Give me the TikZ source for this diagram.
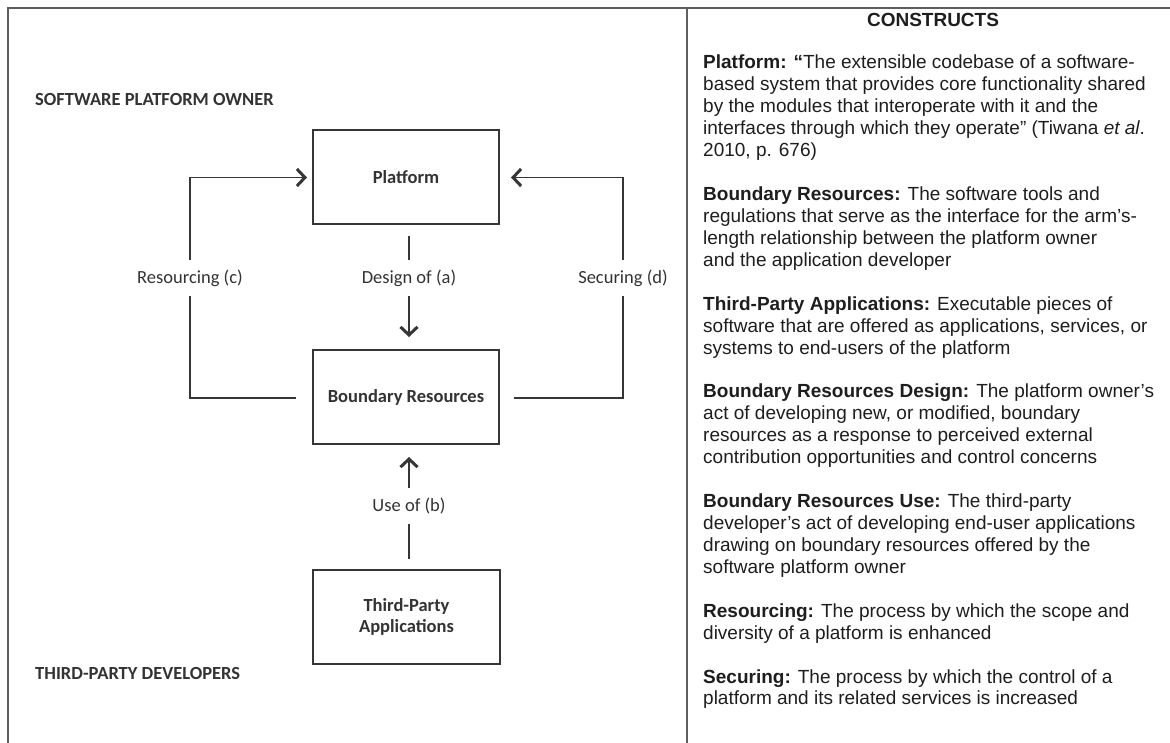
\documentclass[tikz,border=0pt]{standalone}
\usepackage{fontspec}
\setmainfont{Liberation Sans}
\newfontfamily\calfont{Carlito}
\usetikzlibrary{arrows.meta}
\definecolor{framegray}{HTML}{5E5E5E}
\definecolor{boxgray}{HTML}{363636}
\definecolor{labgray}{HTML}{333333}
\definecolor{txt}{HTML}{1E1E1E}
\newcommand\rl[3]{\node[rt] (#1) at (703,{69+21.93*#2}) {#3};}
\begin{document}
\begin{tikzpicture}[x=1pt,y=-1pt,
  frameline/.style={draw=framegray, line width=1.5pt},
  box/.style={draw=boxgray, line width=2pt, inner sep=0pt, align=center,
    font=\calfont\fontsize{18.5}{21}\selectfont\bfseries, text=labgray},
  conn/.style={draw=boxgray, line width=1.7pt},
  arr/.style={conn, -{Straight Barb[length=8pt,width=17pt,line width=3pt]}},
  lab/.style={font=\calfont\fontsize{18.5}{22}\selectfont, text=labgray, inner sep=0pt, minimum height=36pt},
  hdr/.style={font=\calfont\fontsize{18.5}{22}\selectfont\bfseries, text=labgray, anchor=west, inner sep=0pt},
  rt/.style={font=\fontsize{19}{22}\selectfont, text=txt, anchor=base west, inner sep=0pt},
]
\useasboundingbox (0,0) rectangle (1170,743);
\fill[white] (0,0) rectangle (1170,743);

% frame
\draw[frameline] (7,8) -- (1170,8);
\draw[frameline] (8,8) -- (8,743);
\draw[frameline] (687,8) -- (687,743);

% left side headers
\node[hdr] (spo) at (35,100) {SOFTWARE PLATFORM OWNER};
\node[hdr] (tpd) at (35,673) {THIRD-PARTY DEVELOPERS};

% boxes
\node[box, minimum width=186pt, minimum height=94pt] (plat) at (406,177.5) {Platform};
\node[box, minimum width=186pt, minimum height=94pt] (br) at (406,397) {Boundary Resources};
\node[box, minimum width=187pt, minimum height=94pt] (tpa) at (406.5,617) {Third-Party\\Applications};

% labels
\node[lab] (resc) at (190,278) {Resourcing (c)};
\node[lab] (des) at (409,278) {Design of (a)};
\node[lab] (sec) at (623,278) {Securing (d)};
\node[lab] (use) at (409,506) {Use of (b)};

% connectors
\coordinate (brL) at (296,398);
\coordinate (brR) at (514,398);
\draw[conn] (brL) -| (resc.south);
\draw[arr] (resc.north) |- ([xshift=-5pt]plat.west);
\draw[conn] (brR) -| (sec.south);
\draw[arr] (sec.north) |- ([xshift=11pt]plat.east);
\draw[conn] ([xshift=3pt,yshift=-11pt]plat.south) -- (des.north);
\draw[arr] (des.south) -- ([xshift=3pt,yshift=12pt]br.north);
\draw[conn] ([xshift=2.5pt,yshift=10pt]tpa.north) -- (use.south);
\draw[arr] (use.north) -- ([xshift=3pt,yshift=-12pt]br.south);

% right side
\node[font=\fontsize{19}{22}\selectfont\bfseries, text=txt, anchor=base, inner sep=0pt] (cons) at (933,27) {CONSTRUCTS};
\rl{r0}{0}{\textbf{Platform: “}The extensible codebase of a software-}
\rl{r1}{1}{based system that provides core functionality shared}
\rl{r2}{2}{by the modules that interoperate with it and the}
\rl{r3}{3}{interfaces through which they operate” (Tiwana \emph{et al}.}
\rl{r4}{4}{2010, p. 676)}
\rl{r6}{6}{\textbf{Boundary Resources:} The software tools and}
\rl{r7}{7}{regulations that serve as the interface for the arm's-}
\rl{r8}{8}{length relationship between the platform owner}
\rl{r9}{9}{and the application developer}
\rl{r11}{11}{\textbf{Third-Party Applications:} Executable pieces of}
\rl{r12}{12}{software that are offered as applications, services, or}
\rl{r13}{13}{systems to end-users of the platform}
\rl{r15}{15}{\textbf{Boundary Resources Design:} The platform owner’s}
\rl{r16}{16}{act of developing new, or modified, boundary}
\rl{r17}{17}{resources as a response to perceived external}
\rl{r18}{18}{contribution opportunities and control concerns}
\rl{r20}{20}{\textbf{Boundary Resources Use:} The third-party}
\rl{r21}{21}{developer’s act of developing end-user applications}
\rl{r22}{22}{drawing on boundary resources offered by the}
\rl{r23}{23}{software platform owner}
\rl{r25}{25}{\textbf{Resourcing:} The process by which the scope and}
\rl{r26}{26}{diversity of a platform is enhanced}
\rl{r28}{28}{\textbf{Securing:} The process by which the control of a}
\rl{r29}{29}{platform and its related services is increased}
\end{tikzpicture}
\end{document}
